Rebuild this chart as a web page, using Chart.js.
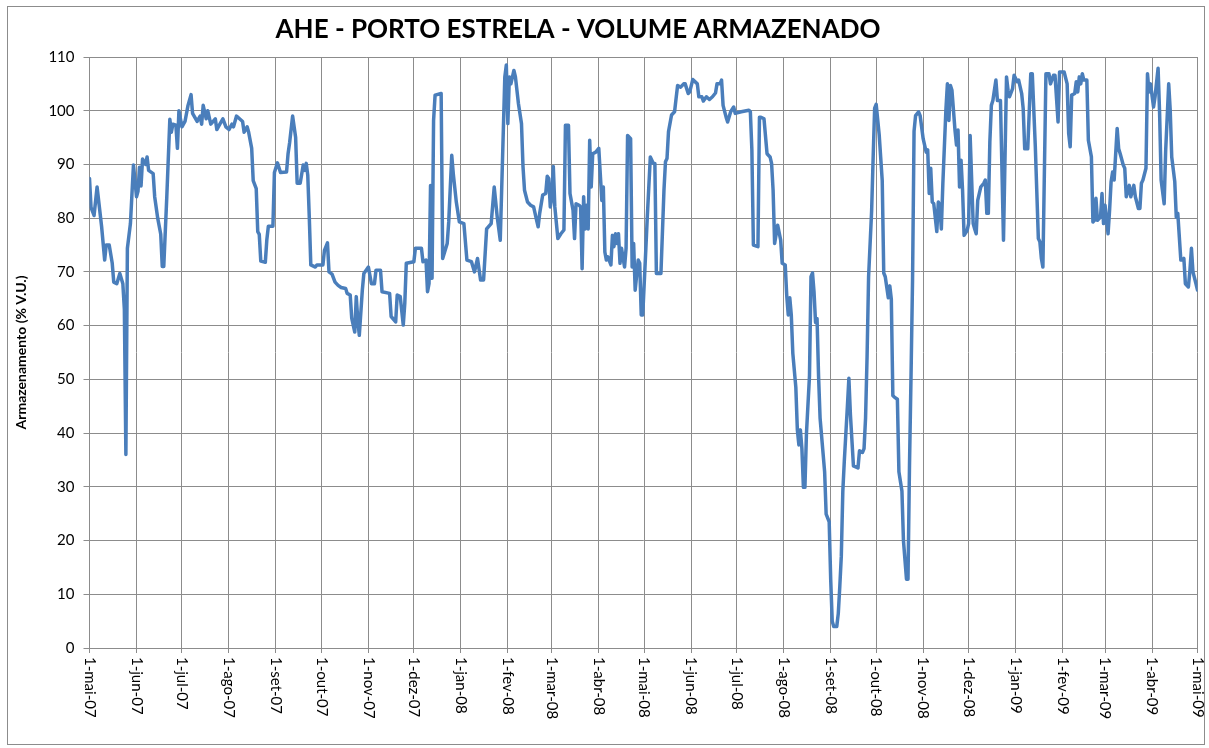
<!DOCTYPE html>
<html lang="pt-BR">
<head>
<meta charset="utf-8">
<title>AHE - Porto Estrela - Volume Armazenado</title>
<script src="https://cdn.jsdelivr.net/npm/chart.js@4.4.1/dist/chart.umd.min.js"></script>
<style>
  html, body { margin: 0; padding: 0; background: #fff; }
</style>
</head>
<body>
<canvas id="grafico" width="1209" height="748"></canvas>
<script>
// dias contados a partir de 1-mai-07
const dias = [
    0, 1, 3, 5, 8, 10, 11, 13, 15, 16, 18, 20, 22, 23, 24, 25, 27, 29, 31, 32, 33, 34, 35, 37, 38, 39, 42, 43, 45, 47, 48, 49, 51,
    53, 54, 55, 57, 58, 59, 61, 63, 65, 67, 68, 71, 73, 74, 75, 77, 78, 80, 83, 84, 86, 88, 90, 92, 94, 95, 97, 99, 101, 102, 104, 105,
    107, 108, 110, 111, 112, 113, 116, 117, 118, 121, 122, 124, 126, 130, 131, 132, 134, 136, 137, 139,
    141, 142, 143, 144, 145, 146, 149, 150, 154, 155, 157, 158, 160, 162, 164, 166, 169, 170, 172, 173, 175, 176, 177, 178, 180, 181,
    184, 186, 188, 189, 192, 193, 198, 199, 202, 203, 205, 207, 208, 209, 214, 215, 219, 220, 222, 223, 224, 225, 226, 227, 228, 232,
    233, 236, 237, 239, 240, 242, 244, 247, 249, 252, 254, 256, 258, 260, 262, 265, 267, 269, 271, 274,
    275, 276, 277, 278, 280, 281, 283, 285, 286, 287, 289, 291, 293, 295, 296, 297, 299, 301, 302, 303, 304, 305, 306, 307, 309, 311,
    313, 314, 316, 317, 319, 320, 321, 323, 324, 325, 326, 327, 328, 329, 330, 331, 332, 334, 336, 338, 339, 340, 341, 342, 344, 345,
    346, 347, 348, 349, 350, 351, 353, 354, 355, 357, 358, 359, 360, 362, 363, 364, 365,
    367, 368, 370, 372, 373, 374, 377, 379, 380, 381, 382, 384, 386, 387, 388, 390, 392, 393, 395, 396, 398, 401, 402, 404, 405, 407,
    409, 411, 413, 414, 416, 417, 418, 420, 421, 423, 425, 426, 430, 435, 436, 437, 438, 441, 442, 443, 445, 447, 449, 450, 451, 452,
    454, 456, 457,
    459, 460, 461, 462, 463, 464, 466, 467, 468, 469, 470, 471, 472, 473, 475, 476, 477, 478, 479, 480, 481, 482, 485, 486, 488, 489,
    490, 491, 493, 494, 495, 496, 497, 498, 500, 501, 502, 504, 507, 508, 510, 511, 512, 513, 514, 516, 517, 518, 519, 521, 523, 524,
    525, 527, 528, 529, 530, 531, 533, 534, 536, 537, 539, 540, 541, 542, 543, 544, 545, 547, 548, 550, 552,
    553, 554, 555, 556, 557, 559, 560, 561, 562, 563, 565, 566, 567, 568, 569, 571, 572, 573, 574, 575, 576, 577, 579, 580, 581, 583,
    584, 585, 586, 588, 590, 591, 592, 593, 594, 595, 596, 598, 599, 601, 603, 605, 606, 607, 609, 610, 612, 613, 615, 616, 617, 619,
    621, 622, 624, 626, 627, 628, 629, 631, 633, 634, 636, 637, 639, 640, 643,
    645, 646, 647, 648, 650, 651, 652, 653, 654, 655, 656, 658, 659, 661, 662, 663, 664, 665, 667, 668, 669, 670, 672, 673, 674, 675,
    676, 678, 679, 680, 682, 683, 684, 686, 687, 689, 690, 692, 693, 694, 695, 697, 698, 699, 700, 702, 703, 705, 706, 707, 709, 710,
    712, 713, 714, 716, 717, 718, 720, 721, 722, 723, 725, 726, 727, 728, 730, 731
];

// armazenamento em % do volume útil
const armazenamento = [
    87.4, 82, 80.5, 85.8, 78.4, 72.2, 75, 75, 71.6, 68.1, 67.8, 69.7, 67.8, 63, 36, 74.4, 79, 89.9, 84, 85, 89.5, 86, 91, 90, 91.4, 88.9, 88.3, 84, 80, 77, 71, 71, 84,
    98.4, 96, 97.5, 97.3, 93, 100, 97, 98, 101, 103, 99.5, 98, 99, 97.5, 101, 98.5, 100, 97.5, 98.5, 96.5, 97.5, 98.5, 97, 96.5, 97.5, 97, 99, 98.5, 98, 96, 97, 96,
    93, 87, 85.5, 77.5, 77, 72, 71.8, 76, 78.5, 78.5, 88.5, 90.3, 88.5, 88.6, 92, 94, 99, 95, 86.5, 86.5,
    89.9, 88.9, 90.2, 88, 80.2, 71.3, 70.9, 71.3, 71.3, 74, 75.4, 70, 69.6, 68.1, 67.5, 67.1, 66.9, 66, 65.7, 61.4, 58.8, 65.4, 61, 58.2, 66.6, 69.7,
    70.9, 67.8, 67.8, 70.3, 70.3, 66.3, 66, 61.7, 60.7, 65.7, 65.4, 60.1, 64.1, 71.6, 71.9, 74.4, 74.4, 71.9, 72.2, 66.3, 67.8, 86.1, 68.8, 98.2, 102.9, 103.2,
    72.5, 75.3, 79.3, 91.7, 88.3, 83, 79.3, 79, 72.2, 71.9, 70, 72.5, 68.5, 68.5, 78, 79, 85.8, 80.2, 75.9, 106.3,
    108.5, 97.6, 106.3, 105, 107.5, 106.3, 101.3, 97.6, 89.6, 85.2, 83, 82.4, 82.1, 79.6, 78.4, 80.9, 84.3, 84.6, 87.8, 87.4, 82.1, 83.7, 89.6, 82.1, 76.2, 77.1,
    77.8, 97.3, 97.3, 84.6, 81.5, 76.2, 82.7, 82.4, 82.1, 70.6, 84, 78, 82.4, 78, 94.5, 85.8, 92, 92.3, 93, 83.3, 85.8, 73.7, 72.2, 72.8, 71.3, 76.8,
    74.7, 77.1, 75.3, 77.1, 71.6, 74.4, 70.9, 74.4, 95.4, 94.8, 70.9, 75.3, 66.6, 72.2, 71.6, 62, 62,
    74, 80.2, 91.4, 90.2, 90.2, 69.7, 69.7, 85.2, 90.5, 91.1, 96.1, 99.2, 99.8, 102.3, 104.7, 104.4, 105, 105, 103.2, 103.5, 105.8, 105, 102.6, 102.6, 101.8, 102.6,
    102.1, 102.6, 103.3, 105, 105, 105.7, 101, 98.8, 97.9, 99.8, 100.7, 99.5, 99.8, 100.1, 99.8, 92.7, 75, 74.7, 98.8, 98.8, 98.5, 92, 91.4, 90.2, 85.2, 75.3,
    78.7, 75.9, 71.6,
    71.3, 65.6, 62, 65.2, 62, 54.9, 48.5, 40.6, 37.8, 40.6, 37.1, 29.9, 29.9, 39.9, 50.6, 69.1, 69.8, 66.3, 60.6, 61.3, 50.6, 42.8, 32.8, 24.9, 23.5, 12.8,
    5, 4, 4, 6.4, 11.4, 17.1, 29.2, 34.9, 44.9, 50.2, 43.5, 33.9, 33.5, 36.7, 36.4, 37.1, 42.8, 54.2, 69.1, 81.3, 91.2, 100.5, 101.2, 95.5, 87, 69.8,
    69.1, 65.2, 67.4, 64.9, 47, 46.7, 46.3, 32.8, 29.2, 20, 12.8, 12.8, 34.2, 50.6, 68.4, 96.2, 99.1, 99.8, 99.1, 94.8, 92.3,
    92.7, 84.6, 89.3, 83, 82.7, 77.5, 83, 82.4, 78, 86.5, 100.1, 105, 98.2, 104.7, 103.8, 96.4, 93.6, 96.4, 85.8, 90.8, 85.2, 76.8, 77.7, 79, 95.4, 79,
    78, 77.1, 83.3, 85.8, 86.5, 87.1, 80.9, 80.9, 94.2, 101, 101.9, 105.7, 101.9, 101.9, 75.9, 106.3, 103.8, 102.6, 104.1, 106.6, 105.4, 105.7, 103.2, 100.4, 92.9, 92.9,
    106.9, 106.9, 93.3, 76.2, 75.6, 72.5, 70.9, 106.9, 106.9, 105, 106.6, 106.6, 97.9, 107.2, 107.2,
    105, 95.8, 93.3, 102.9, 103.2, 105.4, 103.5, 106.3, 105, 106.9, 105.7, 105.7, 94.5, 91.4, 79.3, 79.6, 83.7, 79.6, 80.2, 84.6, 79, 82.4, 77.1, 81.5, 86.8, 88.6,
    87.1, 96.7, 92.9, 92, 89.9, 89.3, 84, 86.1, 84, 86.1, 84, 81.8, 81.8, 86.5, 87.1, 89.3, 106.9, 103.5, 105, 100.7, 102.6, 107.9, 99.5, 87.1, 82.7, 92.6,
    105, 100.1, 91.4, 86.8, 80.2, 80.9, 72.2, 72.2, 72.5, 67.8, 67.2, 70.3, 74.4, 70, 67.8, 66.6
];

// primeiro dia de cada mês (dias desde 1-mai-07) e seus rótulos
const mesesDias = [0, 31, 61, 92, 123, 153, 184, 214, 245, 276, 305, 336, 366, 397, 427, 458, 489, 519, 550, 580, 611, 642, 670, 701, 731];
const mesesRotulos = ['1-mai-07', '1-jun-07', '1-jul-07', '1-ago-07', '1-set-07', '1-out-07', '1-nov-07', '1-dez-07',
    '1-jan-08', '1-fev-08', '1-mar-08', '1-abr-08', '1-mai-08', '1-jun-08', '1-jul-08', '1-ago-08', '1-set-08', '1-out-08',
    '1-nov-08', '1-dez-08', '1-jan-09', '1-fev-09', '1-mar-09', '1-abr-09', '1-mai-09'];

const titulo = 'AHE - PORTO ESTRELA - VOLUME ARMAZENADO';
const corGrade = '#8c8c8c';

// moldura, título e rótulos verticais do eixo X (lidos de cima para baixo, como no Excel)
const extras = {
    id: 'extras',
    beforeDraw(chart) {
        const ctx = chart.ctx;
        ctx.save();
        ctx.strokeStyle = corGrade;
        ctx.lineWidth = 1;
        ctx.strokeRect(7.5, 6.5, 1197, 738);
        ctx.restore();
    },
    afterDraw(chart) {
        const ctx = chart.ctx;
        const escalaX = chart.scales.x;
        const topo = chart.chartArea.bottom + 9;

        ctx.save();
        ctx.fillStyle = '#000';
        ctx.font = 'bold 26px Lato';
        ctx.textAlign = 'center';
        ctx.textBaseline = 'middle';
        ctx.fillText(titulo, 578, 30);

        ctx.font = '15px Lato';
        ctx.textAlign = 'left';
        mesesDias.forEach((d, i) => {
            ctx.save();
            ctx.translate(escalaX.getPixelForValue(d), topo);
            ctx.rotate(Math.PI / 2);
            ctx.fillText(mesesRotulos[i], 0, 0);
            ctx.restore();
        });
        ctx.restore();
    }
};

new Chart(document.getElementById('grafico').getContext('2d'), {
    type: 'line',
    data: {
        datasets: [{
            label: 'Armazenamento',
            data: dias.map((d, i) => ({ x: d, y: armazenamento[i] })),
            borderColor: '#4a7ebb',
            borderWidth: 3.5,
            borderJoinStyle: 'round',
            borderCapStyle: 'round',
            pointRadius: 0,
            tension: 0,
            fill: false
        }]
    },
    options: {
        responsive: false,
        animation: false,
        devicePixelRatio: 1,
        layout: { padding: { left: 0, top: 57, right: 11.5, bottom: 0 } },
        plugins: {
            legend: { display: false },
            tooltip: { enabled: false }
        },
        scales: {
            x: {
                type: 'linear',
                min: 0,
                max: 731,
                afterBuildTicks: (escala) => {
                    escala.ticks = mesesDias.map(v => ({ value: v }));
                },
                afterFit: (escala) => { escala.height = 100; },
                ticks: { display: false },
                grid: { color: corGrade, tickLength: 5 },
                border: { color: corGrade }
            },
            y: {
                min: 0,
                max: 110,
                afterFit: (escala) => { escala.width = 89.5; },
                ticks: {
                    stepSize: 10,
                    padding: 9,
                    color: '#000',
                    font: { family: 'Lato', size: 15 }
                },
                grid: { color: corGrade, tickLength: 6 },
                border: { color: corGrade },
                title: {
                    display: true,
                    text: 'Armazenamento (% V.U.)',
                    color: '#000',
                    font: { family: 'Lato', size: 14, weight: 'bold' },
                    padding: { top: 13, bottom: 0 }
                }
            }
        }
    },
    plugins: [extras]
});
</script>
</body>
</html>
